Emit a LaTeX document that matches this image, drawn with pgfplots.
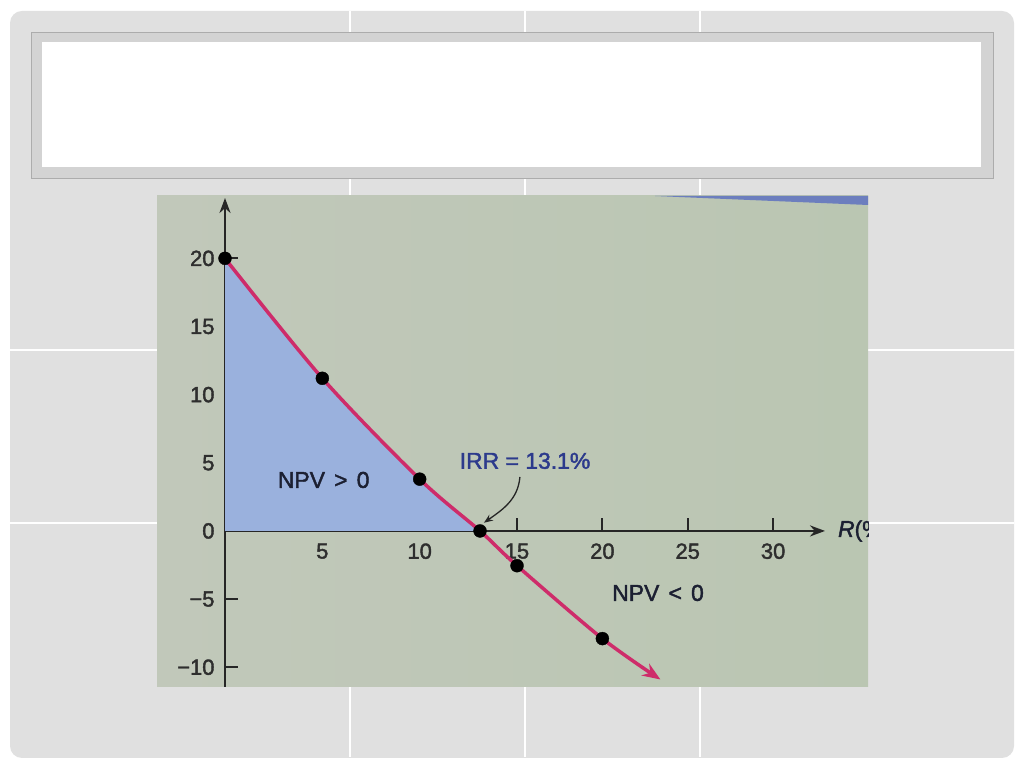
\documentclass[border=0pt]{standalone}
\usepackage{pgfplots}
\pgfplotsset{compat=1.18}
\usepackage{fontspec}
\setmainfont{Liberation Sans}[BoldFont={Liberation Sans}, BoldFeatures={FakeBold=1.8}, BoldItalicFont={Liberation Sans Italic}, BoldItalicFeatures={FakeBold=1.8}]
\usetikzlibrary{arrows.meta}
\definecolor{slide}{RGB}{224,224,224}
\definecolor{boxgray}{RGB}{211,211,211}
\definecolor{boxedge}{RGB}{172,172,172}
\definecolor{paperL}{RGB}{193,200,186}
\definecolor{paperR}{RGB}{186,198,178}
\definecolor{npvblue}{RGB}{154,177,221}
\definecolor{crv}{RGB}{206,44,106}
\definecolor{irrblue}{RGB}{44,58,140}
\definecolor{inkdark}{RGB}{28,32,50}
\definecolor{stripe}{RGB}{108,126,190}
\begin{document}
\begin{tikzpicture}[x=1bp,y=1bp]
\fill[white] (0,0) rectangle (1024,768);
\fill[slide, rounded corners=12bp] (10,10) rectangle (1014,757);
\foreach \gx in {350,525,700} \draw[white, line width=1.2bp] (\gx,11) -- (\gx,757);
\foreach \gy in {245,418} \draw[white, line width=1.2bp] (10,\gy) -- (1014,\gy);
% title box
\fill[boxgray, draw=boxedge, line width=0.8bp] (31,590) rectangle (993,736);
\fill[white] (42,601) rectangle (981,726);
% photo background
\shade[left color=paperL, right color=paperR] (157,81) rectangle (868,572);
\fill[stripe] (655,572) -- (868,572) -- (868,563) -- cycle;
\begin{axis}[
  at={(225bp,81bp)}, anchor=south west,
  scale only axis, width=600bp, height=489bp,
  % the photographed page is slightly compressed beyond 15
  x coord trafo/.code={\pgfmathparse{((#1)<=15)*(#1) + ((#1)>15)*(15+((#1)-15)*0.877)}},
  x coord inv trafo/.code={\pgfmathparse{((#1)<=15)*(#1) + ((#1)>15)*(15+((#1)-15)/0.877)}},
  xmin=0, xmax=33.04, ymin=-11.45, ymax=24.43,
  axis lines=middle, clip=false,
  axis line style={line width=2.3bp, draw=black!85, -{Stealth[length=15bp,width=11bp]}},
  xtick={5,10,15,20,25,30}, ytick={-10,-5,0,5,10,15,20},
  xticklabels={5,10,15,20,25,30},
  yticklabels={−10,−5,0,5,10,15,20},
  major tick length=13bp, tick align=inside,
  tick style={line width=2bp, draw=black!85},
  ticklabel style={font=\bfseries\fontsize{22}{22}\selectfont, text=black!82},
  xticklabel style={yshift=-9bp},
  yticklabel style={xshift=-7bp},
  hide obscured x ticks=false, hide obscured y ticks=false,
]
\addplot[draw=none, fill=npvblue, smooth]
  coordinates {(0,20) (5,11.2) (10,3.8) (13.1,0)} \closedcycle;
\addplot[line width=3.5bp, color=crv, smooth, -{Stealth[length=18bp,width=14bp]}]
  coordinates {(0,20) (5,11.2) (10,3.8) (13.1,0) (15,-2.55) (20,-7.9) (23.4,-10.9)};
\addplot[only marks, mark=*, mark size=6.5, black]
  coordinates {(0,20) (5,11.2) (10,3.8) (13.1,0) (15,-2.55) (20,-7.9)};
\node[font=\bfseries\fontsize{23}{23}\selectfont, text=inkdark] at (axis cs:5.07,3.74) {NPV\hspace{0.4em}>\hspace{0.4em}0};
\node[font=\bfseries\fontsize{23}{23}\selectfont, text=irrblue] at (axis cs:15.47,5.14) {IRR = 13.1\%};
\node[font=\bfseries\fontsize{23}{23}\selectfont, text=inkdark] at (axis cs:23.26,-4.55) {NPV\hspace{0.4em}<\hspace{0.4em}0};
\node[anchor=west, font=\bfseries\fontsize{23}{23}\selectfont, text=inkdark] at (axis cs:33.6,0) {\textit{R}(\%)};
\draw[-{Stealth[length=9bp,width=7bp]}, line width=1.3bp, black!85] (axis cs:15.17,3.96) to[out=-95,in=35] (axis cs:13.3,0.6);
\end{axis}
% cover the part of the axis label that runs past the photo
\fill[slide] (868.5,81) rectangle (1014,572);
\draw[white, line width=1.2bp] (868.5,245) -- (1014,245);
\draw[white, line width=1.2bp] (868.5,418) -- (1014,418);
\end{tikzpicture}
\end{document}
